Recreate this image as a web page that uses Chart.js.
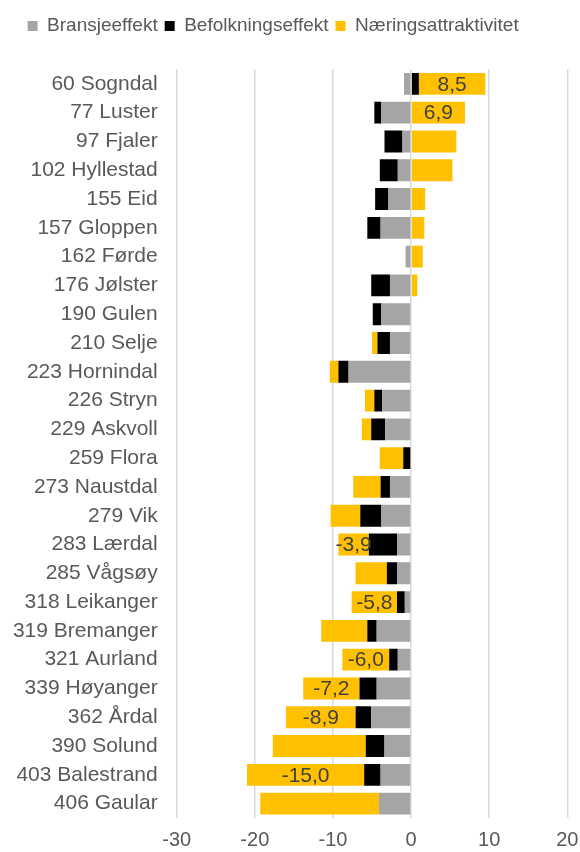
<!DOCTYPE html>
<html>
<head>
<meta charset="utf-8">
<script src="https://cdn.jsdelivr.net/npm/chart.js@4.4.1/dist/chart.umd.min.js"></script>
<style>
html,body{margin:0;padding:0;background:#fff;}
#wrap{width:580px;height:852px;position:relative;}
</style>
</head>
<body>
<div id="wrap"><canvas id="c" width="580" height="852"></canvas></div>
<script>
const categories = ['60 Sogndal','77 Luster','97 Fjaler','102 Hyllestad','155 Eid','157 Gloppen','162 Førde','176 Jølster','190 Gulen','210 Selje','223 Hornindal','226 Stryn','229 Askvoll','259 Flora','273 Naustdal','279 Vik','283 Lærdal','285 Vågsøy','318 Leikanger','319 Bremanger','321 Aurland','339 Høyanger','362 Årdal','390 Solund','403 Balestrand','406 Gaular'];
const bransjeeffekt = [-0.9,-3.8,-1.1,-1.7,-2.9,-3.9,-0.7,-2.7,-3.8,-2.7,-8.0,-3.7,-3.3,0,-2.7,-3.8,-1.8,-1.8,-0.8,-4.4,-1.7,-4.4,-5.1,-3.4,-3.9,-4.1];
const befolkningseffekt = [1.0,-0.9,-2.3,-2.3,-1.7,-1.7,0,-2.4,-1.1,-1.6,-1.3,-1.0,-1.8,-1.0,-1.2,-2.7,-3.6,-1.3,-1.0,-1.2,-1.1,-2.2,-2.0,-2.4,-2.1,0];
const naeringsattraktivitet = [8.5,6.9,5.8,5.3,1.8,1.7,1.5,0.8,0,-0.7,-1.1,-1.2,-1.2,-3.0,-3.5,-3.8,-3.9,-4.0,-5.8,-5.9,-6.0,-7.2,-8.9,-11.9,-15.0,-15.2];
const labelShown = [true,true,false,false,false,false,false,false,false,false,false,false,false,false,false,false,true,false,true,false,true,true,true,false,true,false];
const xTicks = [-30,-20,-10,0,10,20];

const FONT = "'Liberation Sans', Arial, sans-serif";

const valueLabels = {
  id: 'valueLabels',
  afterDatasetsDraw(chart) {
    const meta = chart.getDatasetMeta(2);
    const ctx = chart.ctx;
    ctx.save();
    ctx.font = '21px ' + FONT;
    ctx.fillStyle = '#404040';
    ctx.textAlign = 'center';
    ctx.textBaseline = 'middle';
    meta.data.forEach((el, i) => {
      if (!labelShown[i]) return;
      const p = el.getCenterPoint();
      ctx.fillText(naeringsattraktivitet[i].toFixed(1).replace('.', ','), p.x, p.y + 1);
    });
    ctx.restore();
  }
};

const legendTweak = {
  id: 'legendTweak',
  afterInit(chart) {
    const lg = chart.legend;
    const orig = lg.fit;
    lg.fit = function() { orig.call(this); this.height += 24; };
  },
  afterLayout(chart) {
    chart.legend.left -= 10.5;
    chart.legend.right -= 10.5;
  }
};

new Chart(document.getElementById('c'), {
  type: 'bar',
  data: {
    labels: categories,
    datasets: [
      {label: 'Bransjeeffekt', data: bransjeeffekt, backgroundColor: '#a5a5a5'},
      {label: 'Befolkningseffekt', data: befolkningseffekt, backgroundColor: '#000000'},
      {label: 'Næringsattraktivitet', data: naeringsattraktivitet, backgroundColor: '#ffc000'}
    ]
  },
  options: {
    indexAxis: 'y',
    responsive: false,
    animation: false,
    devicePixelRatio: 1,
    datasets: { bar: { categoryPercentage: 1, barPercentage: 0.76, borderWidth: 0 } },
    layout: { padding: { top: 9.5, right: 12.7, left: 0, bottom: 0 } },
    plugins: {
      legend: {
        position: 'top',
        labels: {
          boxWidth: 10, boxHeight: 10, padding: 7,
          color: '#595959',
          font: { family: FONT, size: 19 }
        }
      },
      tooltip: { enabled: false }
    },
    scales: {
      x: {
        stacked: true,
        min: -30, max: 20,
        afterBuildTicks(scale) { scale.ticks = xTicks.map(v => ({value: v})); },
        grid: { color: '#d9d9d9', lineWidth: 1.5, drawTicks: false },
        border: { display: false },
        ticks: { color: '#595959', font: { family: FONT, size: 20 }, padding: 10 },
        afterFit(scale) { scale.height = 34; scale.paddingLeft = 0; scale.paddingRight = 0; }
      },
      y: {
        stacked: true,
        grid: { display: false, drawTicks: false },
        border: { display: false },
        ticks: { color: '#595959', font: { family: FONT, size: 21 }, padding: 19, autoSkip: false },
        afterFit(scale) { scale.width = 176.7; }
      }
    }
  },
  plugins: [valueLabels, legendTweak]
});
</script>
</body>
</html>
